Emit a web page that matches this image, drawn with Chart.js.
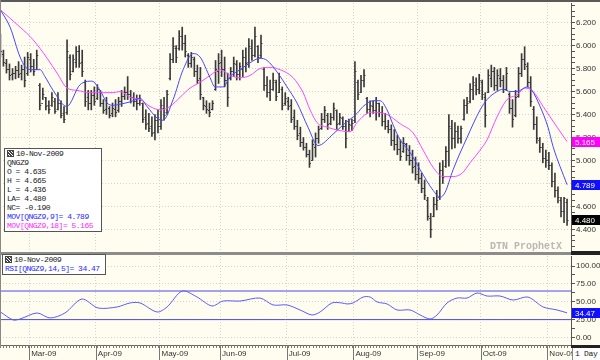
<!DOCTYPE html>
<html><head><meta charset="utf-8">
<script src="https://cdn.jsdelivr.net/npm/chart.js@4.4.1/dist/chart.umd.min.js"></script>
<style>
html,body{margin:0;padding:0;background:#fffdf0;}
#wrap{position:relative;width:600px;height:360px;overflow:hidden;background:#fffdf0;}
canvas{position:absolute;left:0;}
#cA{top:0;} #cB{top:254px;}
.blk{position:absolute;}
.box{position:absolute;background:#fff;border:1px solid #555;font-family:"Liberation Mono",monospace;font-size:8px;letter-spacing:-0.5px;line-height:9px;color:#222;white-space:pre;padding-left:2px;box-sizing:border-box;}
.ico{display:inline-block;width:5px;height:5px;border:1px solid #444;margin-right:2px;vertical-align:-1px;background:repeating-linear-gradient(45deg,#444 0 1px,#fff 1px 2px);}
#wm{position:absolute;left:490px;top:241px;font-family:"Liberation Mono",monospace;font-weight:bold;font-size:10px;color:#b8b8b8;white-space:pre;}
#day{position:absolute;left:572px;top:348px;width:28px;height:12px;background:#fff;border-left:1px solid #888;font-family:"Liberation Mono",monospace;font-size:8px;letter-spacing:-0.3px;line-height:12px;color:#222;padding-left:2px;box-sizing:border-box;white-space:pre;}
</style></head>
<body>
<div id="wrap">
<canvas id="cA" width="600" height="254"></canvas>
<canvas id="cB" width="600" height="106"></canvas>
<div class="blk" style="left:0;top:0;width:600px;height:2px;background:#5a5a5a"></div>
<div class="blk" style="left:0;top:0;width:1px;height:347px;background:#888"></div>
<div class="blk" style="left:0;top:252px;width:571px;height:3px;background:#8c8c8c"></div>
<div class="blk" style="left:571px;top:251px;width:29px;height:4px;background:#222"></div>
<div class="blk" style="left:571px;top:345px;width:29px;height:3px;background:#222"></div>
<div id="legA" class="box" style="left:4px;top:148px;width:98px;height:84px;"></div>
<div id="legB" class="box" style="left:2px;top:254px;width:104px;height:21px;"></div>
<div id="wm">DTN ProphetX</div>
<div id="day">1 Day</div>
</div>
<script>
// ---- data ----
const symbol = 'QNGZ9';
const lastDate = '10-Nov-2009';
const monthLabels = ['Mar-09','Apr-09','May-09','Jun-09','Jul-09','Aug-09','Sep-09','Oct-09','Nov-09'];
const monthStart = [10,32,53,73,95,117,138,159,181];
const priceTicks = [4.4,4.6,4.8,5.0,5.2,5.4,5.6,5.8,6.0,6.2];
const rsiTicks = [0,25,50,75,100];
const rsiBands = [65,25];

const open = [
6.05,5.93,5.85,5.80,5.75,5.76,5.79,5.76,5.80,5.76,
5.88,5.82,5.80,5.66,5.50,5.55,5.48,5.48,5.52,5.45,
5.50,5.41,5.42,5.90,5.78,5.86,5.95,5.86,5.68,5.55,
5.50,5.57,5.54,5.60,5.50,5.45,5.46,5.41,5.45,5.44,
5.52,5.56,5.60,5.58,5.55,5.52,5.50,5.50,5.38,5.33,
5.30,5.25,5.35,5.30,5.46,5.42,5.72,5.88,5.98,5.98,
6.08,6.02,5.92,5.85,5.88,5.78,5.72,5.55,5.47,5.44,
5.45,5.62,5.78,5.86,5.80,5.70,5.72,5.78,5.84,5.75,
5.80,5.90,5.86,5.98,5.92,6.00,5.92,5.80,5.66,5.60,
5.62,5.68,5.60,5.62,5.50,5.52,5.48,5.38,5.30,5.24,
5.16,5.12,5.06,5.00,5.12,5.20,5.28,5.36,5.40,5.33,
5.38,5.44,5.33,5.37,5.30,5.26,5.31,5.35,5.68,5.60,
5.70,5.54,5.45,5.47,5.44,5.50,5.42,5.34,5.30,5.27,
5.18,5.14,5.10,5.08,5.14,5.05,5.00,4.95,4.88,4.85,
4.76,4.66,4.50,4.52,4.62,4.68,4.92,4.95,5.08,5.28,
5.20,5.26,5.20,5.36,5.48,5.52,5.62,5.66,5.62,5.68,
5.55,5.60,5.72,5.78,5.66,5.72,5.70,5.62,5.58,5.46,
5.40,5.56,5.76,5.88,5.82,5.68,5.45,5.32,5.18,5.12,
5.02,5.00,4.96,4.82,4.74,4.66,4.56,4.635];
const high = [
6.10,5.96,5.88,5.84,5.80,5.82,5.86,5.83,5.90,5.94,
5.93,5.88,5.96,5.67,5.63,5.55,5.52,5.59,5.54,5.59,
5.52,5.47,6.05,5.92,5.92,5.99,6.00,5.96,5.70,5.61,
5.61,5.64,5.66,5.61,5.53,5.55,5.47,5.50,5.53,5.55,
5.61,5.64,5.73,5.61,5.59,5.57,5.57,5.50,5.44,5.41,
5.38,5.40,5.44,5.53,5.55,5.61,5.93,6.07,6.00,6.13,
6.16,6.09,5.93,5.94,5.90,5.83,5.81,5.55,5.52,5.50,
5.52,5.87,5.93,5.96,5.90,5.76,5.81,5.90,5.87,5.85,
5.96,5.98,6.06,6.05,6.16,6.00,6.09,5.81,5.73,5.70,
5.76,5.70,5.76,5.64,5.59,5.55,5.53,5.44,5.35,5.29,
5.20,5.15,5.09,5.18,5.24,5.30,5.41,5.47,5.41,5.41,
5.50,5.44,5.41,5.38,5.35,5.36,5.36,5.86,5.70,5.74,
5.79,5.55,5.52,5.52,5.55,5.50,5.47,5.41,5.35,5.31,
5.27,5.22,5.18,5.20,5.15,5.13,5.09,5.03,4.98,4.89,
4.83,4.68,4.54,4.68,4.74,4.98,5.00,5.12,5.40,5.35,
5.33,5.30,5.30,5.53,5.55,5.67,5.73,5.72,5.75,5.70,
5.59,5.79,5.83,5.81,5.79,5.80,5.74,5.81,5.59,5.53,
5.61,5.81,5.93,5.99,5.85,5.73,5.47,5.38,5.20,5.15,
5.09,5.07,4.98,4.89,4.77,4.68,4.68,4.665];
const low = [
5.90,5.82,5.76,5.70,5.70,5.71,5.72,5.70,5.64,5.74,
5.77,5.74,5.79,5.44,5.53,5.44,5.41,5.47,5.41,5.44,
5.37,5.33,5.40,5.70,5.77,5.81,5.81,5.73,5.47,5.44,
5.44,5.48,5.53,5.47,5.41,5.40,5.37,5.38,5.38,5.42,
5.47,5.53,5.53,5.50,5.47,5.44,5.48,5.33,5.27,5.25,
5.21,5.18,5.24,5.27,5.35,5.40,5.70,5.85,5.85,5.96,
5.96,5.90,5.81,5.81,5.73,5.67,5.53,5.44,5.41,5.38,
5.44,5.61,5.67,5.73,5.64,5.47,5.70,5.73,5.70,5.70,
5.73,5.77,5.81,5.87,5.90,5.85,5.89,5.61,5.55,5.52,
5.61,5.52,5.59,5.44,5.48,5.44,5.33,5.27,5.18,5.12,
5.09,5.03,4.94,5.00,5.03,5.15,5.27,5.33,5.27,5.31,
5.35,5.27,5.31,5.27,5.11,5.25,5.26,5.33,5.53,5.59,
5.64,5.41,5.38,5.41,5.35,5.38,5.30,5.27,5.24,5.13,
5.09,5.05,5.00,5.07,5.00,4.96,4.89,4.83,4.80,4.72,
4.66,4.48,4.33,4.51,4.57,4.66,4.80,4.94,4.95,5.10,
5.11,5.15,5.15,5.35,5.41,5.50,5.53,5.57,5.58,5.53,
5.29,5.59,5.64,5.61,5.61,5.64,5.59,5.61,5.41,5.29,
5.38,5.55,5.73,5.79,5.64,5.47,5.27,5.15,5.07,4.98,
4.94,4.92,4.77,4.68,4.63,4.51,4.46,4.436];
const close = [
5.95,5.86,5.80,5.74,5.76,5.79,5.75,5.80,5.70,5.90,
5.82,5.78,5.92,5.48,5.58,5.47,5.45,5.55,5.43,5.50,
5.40,5.36,5.95,5.75,5.88,5.95,5.85,5.78,5.52,5.50,
5.57,5.52,5.62,5.50,5.44,5.50,5.40,5.46,5.42,5.52,
5.56,5.60,5.58,5.55,5.52,5.50,5.53,5.36,5.32,5.28,
5.24,5.35,5.30,5.48,5.40,5.58,5.88,6.00,5.90,6.08,
6.02,5.95,5.85,5.90,5.78,5.70,5.58,5.48,5.45,5.42,
5.50,5.80,5.85,5.80,5.70,5.55,5.78,5.85,5.75,5.82,
5.90,5.85,6.00,5.92,6.08,5.90,6.02,5.66,5.60,5.62,
5.70,5.56,5.68,5.48,5.54,5.47,5.36,5.30,5.22,5.16,
5.12,5.06,4.98,5.14,5.20,5.27,5.36,5.44,5.32,5.38,
5.46,5.32,5.38,5.30,5.20,5.32,5.33,5.78,5.58,5.70,
5.74,5.45,5.48,5.44,5.50,5.42,5.34,5.30,5.27,5.18,
5.14,5.10,5.04,5.15,5.05,5.00,4.94,4.88,4.85,4.76,
4.70,4.52,4.40,4.62,4.66,4.92,4.86,5.08,5.30,5.20,
5.26,5.20,5.28,5.48,5.50,5.62,5.68,5.62,5.70,5.58,
5.40,5.74,5.78,5.66,5.74,5.70,5.62,5.76,5.46,5.36,
5.55,5.76,5.88,5.84,5.68,5.52,5.32,5.20,5.12,5.02,
5.00,4.96,4.82,4.74,4.68,4.56,4.67,4.48];

const ma9Idx = [0,3.2,6.5,8.8,10.8,13.1,14.7,17.4,21.9,26.3,30.2,32.9,35.2,37.2,39.5,42.8,46.1,48.4,51.7,53.7,57.0,60.3,63.6,65.9,69.2,70.8,73.5,75.8,79.1,82.4,85.7,88.0,91.3,94.6,97.9,101.5,104.8,109.8,113.1,117.7,119.7,123.0,125.3,127.6,129.6,131.9,135.2,138.5,142.8,145.1,146.7,149.4,154.0,158.3,160.6,163.9,165.9,168.2,170.5,173.8,175.4,178.1,180.7,182.4,187];
const ma9Val = [6.31,6.16,5.90,5.80,5.79,5.79,5.73,5.61,5.47,5.66,5.69,5.61,5.50,5.48,5.49,5.51,5.54,5.47,5.37,5.35,5.53,5.79,5.93,5.90,5.72,5.64,5.64,5.73,5.79,5.85,5.89,5.87,5.77,5.64,5.50,5.29,5.13,5.23,5.31,5.41,5.47,5.52,5.52,5.44,5.31,5.18,5.07,4.92,4.74,4.68,4.72,4.92,5.20,5.44,5.53,5.60,5.62,5.60,5.60,5.64,5.61,5.47,5.29,5.12,4.789];
const ma18Idx = [0,6.5,10.8,15.4,18.7,22.0,25.3,29.6,33.9,37.2,39.5,42.8,46.1,49.4,52.7,56.0,59.3,62.6,65.9,69.2,72.5,75.8,79.1,82.4,85.7,89.0,92.3,96.6,99.9,102.2,104.5,107.8,112.1,115.4,117.7,121.0,123.0,127.6,131.9,136.2,139.5,142.8,146.1,149.4,152.4,155.0,158.3,160.6,163.9,167.2,170.5,173.1,175.8,179.1,183.7,187];
const ma18Val = [6.31,6.16,6.05,5.89,5.76,5.63,5.61,5.59,5.59,5.59,5.60,5.55,5.53,5.47,5.44,5.47,5.55,5.63,5.68,5.74,5.79,5.74,5.72,5.74,5.80,5.81,5.79,5.72,5.59,5.44,5.33,5.29,5.26,5.25,5.33,5.41,5.42,5.40,5.32,5.24,5.09,4.94,4.86,4.86,4.89,4.98,5.09,5.18,5.38,5.53,5.57,5.63,5.60,5.47,5.29,5.165];
const rsiIdx = [0,4.2,6.5,12.1,16.4,21.3,26.9,32.2,38.5,42.8,46.1,51.7,55.0,60.0,64.9,69.8,73.5,79.1,85.7,90.0,94.6,98.9,102.8,105.5,109.4,112.7,114.4,116.4,119.7,122.0,124.3,127.6,130.9,135.2,138.5,141.8,144.1,147.4,150.7,154.0,157.3,160.6,164.9,169.2,174.1,179.1,183.7,187];
const rsiVal = [35.7,24.5,25.9,34.3,27.3,34.3,53.8,41.3,42.7,48.3,48.3,35.7,42.7,65.0,56.6,44.1,51.0,51.0,55.2,45.5,45.5,38.5,31.5,35.7,48.3,48.3,46.9,48.3,56.6,56.6,49.7,46.9,38.5,38.5,31.5,25.9,31.5,48.3,55.2,55.2,62.2,58.0,58.0,52.4,56.6,42.7,38.5,34.47];

// ---- styling ----
const X_MIN = -0.13, X_MAX = 188.3;
const BLUE = '#4646ff', MAG = '#ff46ff', BARC = '#3a3a3a';
const GRIDC = '#d2d2d2';
const TICKFONT = {family:'"Liberation Sans", Arial, sans-serif', size:8};
const n = close.length - 1;
const f3 = v => v.toFixed(3);

// legend boxes
const legA = document.getElementById('legA');
const linesA = [
  [lastDate, '#222', true],
  [symbol, '#222'],
  ['O = ' + f3(open[n]), '#222'],
  ['H = ' + f3(high[n]), '#222'],
  ['L = ' + f3(low[n]), '#222'],
  ['LA= ' + f3(close[n]), '#222'],
  ['NC= ' + f3(close[n] - close[n-1]), '#222'],
  ['MOV[' + symbol + ',9]= ' + f3(ma9Val[ma9Val.length-1]), '#2a2aff'],
  ['MOV[' + symbol + ',18]= ' + f3(ma18Val[ma18Val.length-1]), '#ff2aff']
];
linesA.forEach(([t,c,ico]) => {
  const d = document.createElement('div');
  d.style.color = c;
  if (ico) { const s = document.createElement('span'); s.className='ico'; d.appendChild(s); }
  d.appendChild(document.createTextNode(t));
  legA.appendChild(d);
});
const legB = document.getElementById('legB');
[[lastDate,'#222',true],['RSI[' + symbol + ',14,5]= ' + rsiVal[rsiVal.length-1].toFixed(2), '#2a2aff']].forEach(([t,c,ico]) => {
  const d = document.createElement('div');
  d.style.color = c;
  if (ico) { const s = document.createElement('span'); s.className='ico'; d.appendChild(s); }
  d.appendChild(document.createTextNode(t));
  legB.appendChild(d);
});

function tag(ctx, area, y, text, bg) {
  const yy = Math.round(y);
  ctx.save();
  ctx.fillStyle = bg;
  ctx.fillRect(area.right + 1, yy - 5, 28, 10);
  ctx.fillStyle = '#fff';
  ctx.font = '8px "Liberation Sans", Arial, sans-serif';
  ctx.textBaseline = 'middle';
  ctx.textAlign = 'left';
  ctx.fillText(text, area.right + 4, yy + 0.5);
  ctx.restore();
}

const ohlcTicks = {
  id: 'ohlcTicks',
  afterDatasetDraw(chart, args) {
    if (args.index !== 0) return;
    const {ctx, scales: {x, y}} = chart;
    ctx.save();
    ctx.strokeStyle = BARC;
    ctx.lineWidth = 1;
    ctx.beginPath();
    for (let i = 0; i < close.length; i++) {
      const px = x.getPixelForValue(i);
      const yo = Math.round(y.getPixelForValue(open[i])) + 0.5;
      const yc = Math.round(y.getPixelForValue(close[i])) + 0.5;
      ctx.moveTo(px - 1.5, yo); ctx.lineTo(px, yo);
      ctx.moveTo(px, yc); ctx.lineTo(px + 1.5, yc);
    }
    ctx.stroke();
    ctx.restore();
  }
};
const tagsA = {
  id: 'tagsA',
  afterDraw(chart) {
    const {ctx, chartArea, scales: {y}} = chart;
    tag(ctx, chartArea, y.getPixelForValue(ma18Val[ma18Val.length-1]), f3(ma18Val[ma18Val.length-1]), '#ff00ff');
    tag(ctx, chartArea, y.getPixelForValue(ma9Val[ma9Val.length-1]), f3(ma9Val[ma9Val.length-1]), '#1010ff');
    tag(ctx, chartArea, y.getPixelForValue(close[n]), f3(close[n]), '#000');
  }
};
const axisB = {
  id: 'axisB',
  afterDraw(chart) {
    const {ctx, chartArea, scales: {x, y}} = chart;
    const H = chart.height;
    ctx.save();
    ctx.strokeStyle = '#777';
    ctx.lineWidth = 1;
    ctx.beginPath();
    monthStart.forEach(m => {
      const px = Math.round(x.getPixelForValue(m - 0.5)) + 0.5;
      ctx.moveTo(px, chartArea.bottom); ctx.lineTo(px, H);
    });
    for (let i = 0; i < close.length; i++) {
      const px = Math.round(x.getPixelForValue(i)) + 0.5;
      ctx.moveTo(px, chartArea.bottom); ctx.lineTo(px, chartArea.bottom + 3);
    }
    ctx.stroke();
    ctx.restore();
    tag(ctx, chartArea, y.getPixelForValue(rsiVal[rsiVal.length-1]), rsiVal[rsiVal.length-1].toFixed(2), '#1010ff');
  }
};

const isMajorPrice = v => priceTicks.some(p => Math.abs(p - v) < 1e-6);

new Chart(document.getElementById('cA'), {
  type: 'line',
  data: {
    datasets: [
      {type: 'bar', data: high.map((h, i) => ({x: i, y: [low[i], h]})), backgroundColor: BARC, borderWidth: 0, barThickness: 1, grouped: false, order: 3},
      {type: 'line', data: ma18Idx.map((v, k) => ({x: v, y: ma18Val[k]})), borderColor: MAG, borderWidth: 1, pointRadius: 0, cubicInterpolationMode: 'monotone', order: 2},
      {type: 'line', data: ma9Idx.map((v, k) => ({x: v, y: ma9Val[k]})), borderColor: BLUE, borderWidth: 1, pointRadius: 0, cubicInterpolationMode: 'monotone', order: 1}
    ]
  },
  options: {
    responsive: false, animation: false, devicePixelRatio: 1,
    layout: {padding: {top: 3, bottom: 2, left: 0, right: 0}},
    plugins: {legend: {display: false}, tooltip: {enabled: false}},
    scales: {
      x: {
        type: 'linear', min: X_MIN, max: X_MAX, offset: false,
        afterBuildTicks: s => { s.ticks = monthStart.map(v => ({value: v - 0.5})); },
        ticks: {display: false},
        grid: {drawTicks: false, offset: false, color: GRIDC},
        border: {display: false, dash: [1, 2]},
        afterFit: s => { s.height = 0; s.paddingLeft = 0; s.paddingRight = 0; }
      },
      y: {
        type: 'linear', position: 'right', min: 4.204, max: 6.37,
        afterBuildTicks: s => {
          const t = [];
          for (let v = 4.25; v < 6.36; v += 0.05) t.push({value: Math.round(v * 100) / 100});
          s.ticks = t;
        },
        ticks: {autoSkip: false, padding: 1, color: '#333', font: TICKFONT,
          callback: v => isMajorPrice(v) ? v.toFixed(3) : ''},
        grid: {tickLength: 4, tickColor: '#555', color: c => isMajorPrice(c.tick.value) ? GRIDC : 'rgba(0,0,0,0)'},
        border: {display: true, color: '#555', width: 1, dash: [1, 2]},
        afterFit: s => { s.width = 29; s.paddingTop = 0; s.paddingBottom = 0; }
      }
    }
  },
  plugins: [ohlcTicks, tagsA]
});

const rsiMajor = v => rsiTicks.some(p => Math.abs(p - v) < 1e-6);
new Chart(document.getElementById('cB'), {
  type: 'line',
  data: {
    datasets: [
      {data: rsiIdx.map((v, k) => ({x: v, y: rsiVal[k]})), borderColor: '#5a5aff', borderWidth: 1, pointRadius: 0, tension: 0.3},
      ...rsiBands.map(b => ({data: [{x: X_MIN, y: b}, {x: X_MAX, y: b}], borderColor: '#4a4ae6', borderWidth: 1, pointRadius: 0}))
    ]
  },
  options: {
    responsive: false, animation: false, devicePixelRatio: 1,
    layout: {padding: {top: 2, bottom: 0, left: 0, right: 0}},
    plugins: {legend: {display: false}, tooltip: {enabled: false}},
    scales: {
      x: {
        type: 'linear', min: X_MIN, max: X_MAX, offset: false,
        afterBuildTicks: s => { s.ticks = monthStart.map(v => ({value: v - 0.5})); },
        ticks: {autoSkip: false, maxRotation: 0, minRotation: 0, align: 'start', padding: 4, labelOffset: 2, color: '#333', font: TICKFONT,
          callback: (v, i) => monthLabels[i]},
        grid: {drawTicks: false, offset: false, color: GRIDC},
        border: {display: true, color: '#666', width: 1, dash: [1, 2]},
        afterFit: s => { s.height = 15; s.paddingLeft = 0; s.paddingRight = 0; }
      },
      y: {
        type: 'linear', position: 'right', min: -10.5, max: 114,
        afterBuildTicks: s => {
          const t = [];
          for (let v = 0; v <= 100; v += 12.5) t.push({value: v});
          s.ticks = t;
        },
        ticks: {autoSkip: false, padding: 1, color: '#333', font: TICKFONT,
          callback: v => rsiMajor(v) ? v.toFixed(2) : ''},
        grid: {tickLength: 4, tickColor: '#555', color: c => rsiMajor(c.tick.value) ? GRIDC : 'rgba(0,0,0,0)'},
        border: {display: true, color: '#555', width: 1, dash: [1, 2]},
        afterFit: s => { s.width = 29; s.paddingTop = 0; s.paddingBottom = 0; }
      }
    }
  },
  plugins: [axisB]
});
</script>
</body></html>
